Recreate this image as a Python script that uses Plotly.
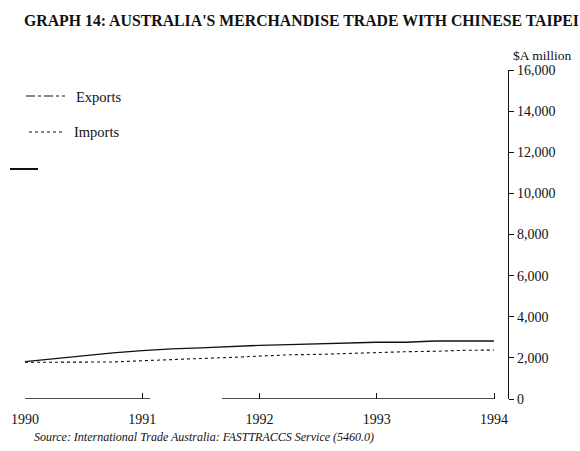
import plotly.graph_objects as go

# ---- data ----
quarters = [1990.0, 1990.25, 1990.5, 1990.75, 1991.0, 1991.25, 1991.5, 1991.75,
            1992.0, 1992.25, 1992.5, 1992.75, 1993.0, 1993.25, 1993.5, 1993.75, 1994.0]
exports = [1814, 1960, 2130, 2240, 2350, 2440, 2490, 2560,
           2610, 2640, 2690, 2730, 2760, 2760, 2820, 2820, 2820]
imports = [1785, 1790, 1790, 1800, 1860, 1930, 1970, 2020,
           2080, 2150, 2170, 2220, 2250, 2300, 2320, 2370, 2380]
year_ticks = [1990, 1991, 1992, 1993, 1994]
year_labels = ["1990", "1991", "1992", "1993", "1994"]
y_ticks = [0, 2000, 4000, 6000, 8000, 10000, 12000, 14000, 16000]
y_labels = ["0", "2,000", "4,000", "6,000", "8,000", "10,000", "12,000", "14,000", "16,000"]

W, H = 580, 451
L, R, T, B = 25, 72, 70, 52
PW = W - L - R
PH = H - T - B
INK = "#111111"
FONT = "Liberation Serif"


def px(x):
    return (x - L) / PW


def py(y):
    return (H - B - y) / PH


fig = go.Figure()
fig.add_trace(go.Scatter(x=quarters, y=exports, mode="lines", name="Exports",
                         line=dict(color=INK, width=1.3), showlegend=False))
fig.add_trace(go.Scatter(x=quarters, y=imports, mode="lines", name="Imports",
                         line=dict(color=INK, width=1.1, dash="dot"), showlegend=False))

shapes = [
    # broken baseline (as in the scan)
    dict(type="line", xref="x", yref="y", x0=1990, x1=1991.07, y0=0, y1=0,
         line=dict(color=INK, width=1.3)),
    dict(type="line", xref="x", yref="y", x0=1991.68, x1=1994, y0=0, y1=0,
         line=dict(color=INK, width=1.3)),
    # legend samples
    dict(type="line", xref="paper", yref="paper", x0=px(26), x1=px(65), y0=py(96), y1=py(96),
         line=dict(color=INK, width=1.2, dash="dashdot")),
    dict(type="line", xref="paper", yref="paper", x0=px(29), x1=px(63), y0=py(132), y1=py(132),
         line=dict(color=INK, width=1.1, dash="dot")),
    # stray scan mark
    dict(type="line", xref="paper", yref="paper", x0=px(10), x1=px(38), y0=py(169), y1=py(169),
         line=dict(color=INK, width=2)),
]

annotations = [
    dict(text="<b>GRAPH 14: AUSTRALIA'S MERCHANDISE TRADE WITH CHINESE TAIPEI</b>",
         xref="paper", yref="paper", x=px(22), y=py(20), xanchor="left", yanchor="middle",
         showarrow=False, font=dict(family=FONT, size=15.8, color=INK)),
    dict(text="$A million", xref="paper", yref="paper", x=px(511), y=py(56),
         xanchor="left", yanchor="middle", showarrow=False,
         font=dict(family=FONT, size=13.5, color=INK)),
    dict(text="Exports", xref="paper", yref="paper", x=px(74), y=py(97),
         xanchor="left", yanchor="middle", showarrow=False,
         font=dict(family=FONT, size=14.5, color=INK)),
    dict(text="Imports", xref="paper", yref="paper", x=px(72), y=py(132),
         xanchor="left", yanchor="middle", showarrow=False,
         font=dict(family=FONT, size=14.5, color=INK)),
    dict(text="<i>Source: International Trade Australia: FASTTRACCS Service (5460.0)</i>",
         xref="paper", yref="paper", x=px(32), y=py(437), xanchor="left", yanchor="middle",
         showarrow=False, font=dict(family=FONT, size=12, color=INK)),
]

fig.update_layout(
    width=W, height=H,
    margin=dict(l=L, r=R, t=T, b=B),
    paper_bgcolor="white", plot_bgcolor="white",
    font=dict(family=FONT, size=14, color=INK),
    shapes=shapes, annotations=annotations,
    xaxis=dict(range=[1990, 1990 + PW / 117.25], tickvals=year_ticks, ticktext=year_labels,
               showgrid=False, zeroline=False, showline=False,
               ticks="inside", ticklen=6, tickwidth=1.2, tickcolor=INK,
               ticklabelstandoff=10, tickfont=dict(family=FONT, size=14, color=INK)),
    yaxis=dict(range=[0, 16000], side="right", tickvals=y_ticks, ticktext=y_labels,
               showgrid=False, zeroline=False, showline=True, linecolor=INK, linewidth=1.3,
               ticks="outside", ticklen=5, tickwidth=1.2, tickcolor=INK,
               tickfont=dict(family=FONT, size=14, color=INK)),
)

fig.write_html("out.html", config={"displayModeBar": False},
               post_script="document.body.style.margin='0';document.body.style.overflow='hidden';")
